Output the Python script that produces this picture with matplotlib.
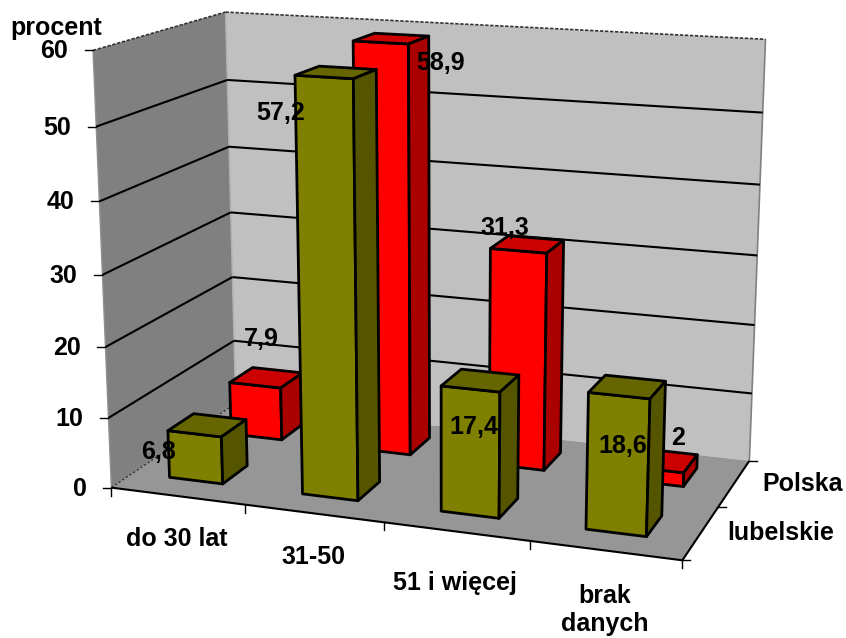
import numpy as np
import matplotlib
matplotlib.use("Agg")
import matplotlib.pyplot as plt

plt.rcParams["font.family"] = ["Liberation Sans", "DejaVu Sans"]

categories = ["do 30 lat", "31-50", "51 i więcej", "brak\ndanych"]
series_names = ["lubelskie", "Polska"]
lubelskie = [6.8, 57.2, 17.4, 18.6]
polska = [7.9, 58.9, 31.3, 2]
y_ticks = [0, 10, 20, 30, 40, 50, 60]

OLIVE = ("#808000", "#666600", "#555500")
RED = ("#ff0000", "#cc0000", "#aa0000")
BAR_LEFT = 0.28
BAR_RIGHT = 0.685
BAR_FRONT = 0.32
BAR_BACK = 0.72
FS = 18


# chart box corners on the canvas: (category, series, value) -> pixel
calib = [
    ((0, 0, 0), (111, 486)), ((4, 0, 0), (683, 561)),
    ((4, 2, 0), (749, 460)), ((0, 2, 0), (236, 405)),
    ((0, 0, 60), (93, 51)), ((0, 2, 60), (226, 12)),
    ((4, 2, 60), (766, 39)), ((0, 0, 50), (96, 127)),
    ((0, 2, 50), (227, 79)), ((4, 2, 50), (762, 113)),
]


def fit_camera(pairs):
    rows = []
    for (x, y, z), (u, v) in pairs:
        rows.append([x, y, z, 1, 0, 0, 0, 0, -u*x, -u*y, -u*z, -u])
        rows.append([0, 0, 0, 0, x, y, z, 1, -v*x, -v*y, -v*z, -v])
    return np.linalg.svd(np.array(rows, dtype=float))[2][-1].reshape(3, 4)


cam = fit_camera(calib)


def proj(x, y, z):
    u, v, w = cam @ np.array([x, y, z, 1.0])
    return u/w, v/w


def face(ax, corners, color, edge="none", lw=0, zorder=1):
    pts = [proj(*c) for c in corners]
    ax.fill(*zip(*pts), facecolor=color, edgecolor=edge, linewidth=lw,
            joinstyle="round", zorder=zorder)


def line(ax, a, b, **kw):
    pa, pb = proj(*a), proj(*b)
    ax.plot([pa[0], pb[0]], [pa[1], pb[1]], solid_capstyle="butt", **kw)


def bar(ax, cat, row, val, colors):
    x0, x1 = cat + BAR_LEFT, cat + BAR_RIGHT
    y0, y1 = row + BAR_FRONT, row + BAR_BACK
    kw = dict(edge="black", lw=2.0, zorder=3)
    face(ax, [(x0, y0, 0), (x1, y0, 0), (x1, y0, val), (x0, y0, val)], colors[0], **kw)
    face(ax, [(x0, y0, val), (x1, y0, val), (x1, y1, val), (x0, y1, val)], colors[1], **kw)
    face(ax, [(x1, y0, 0), (x1, y1, 0), (x1, y1, val), (x1, y0, val)], colors[2], **kw)


fig = plt.figure(figsize=(8.46, 6.38), dpi=100)
ax = fig.add_axes([0, 0, 1, 1])
ax.set_xlim(0, 846)
ax.set_ylim(638, 0)
ax.axis("off")

# walls and floor
face(ax, [(0, 2, 0), (4, 2, 0), (4, 2, 60), (0, 2, 60)], "#c0c0c0")
face(ax, [(0, 0, 0), (0, 2, 0), (0, 2, 60), (0, 0, 60)], "#808080")
face(ax, [(0, 0, 0), (4, 0, 0), (4, 2, 0), (0, 2, 0)], "#969696")
line(ax, (4, 2, 0), (4, 2, 60), color="#808080", lw=1.2)
line(ax, (0, 2, 0), (0, 2, 60), color="#b0b0b0", lw=1.0)
line(ax, (0, 0, 0), (0, 0, 60), color="#909090", lw=1.0)

# gridlines wrap around the two walls
for t in y_ticks[1:-1]:
    line(ax, (0, 0, t), (0, 2, t), color="black", lw=1.5)
    line(ax, (0, 2, t), (4, 2, t), color="black", lw=1.5)
    p = proj(0, 0, t)
    ax.plot([p[0]-8, p[0]], [p[1], p[1]], color="black", lw=1.0)
line(ax, (0, 0, 60), (0, 2, 60), color="#333333", lw=1.2, ls=(0, (2, 1)))
line(ax, (0, 2, 60), (4, 2, 60), color="#333333", lw=1.2, ls=(0, (2, 1)))
line(ax, (0, 0, 0), (0, 2, 0), color="#333333", lw=0.9, ls=(0, (2, 1.5)))
for t in (0, 60):
    p = proj(0, 0, t)
    ax.plot([p[0]-8, p[0]], [p[1], p[1]], color="black", lw=1.0)

# floor edges and their ticks
line(ax, (0, 0, 0), (4, 0, 0), color="black", lw=1.5)
line(ax, (4, 0, 0), (4, 2, 0), color="black", lw=1.5)
for c in range(len(categories) + 1):
    p = proj(c, 0, 0)
    ax.plot([p[0], p[0]], [p[1], p[1]+8], color="black", lw=1.0)
for r in range(len(series_names) + 1):
    p = proj(4, r, 0)
    ax.plot([p[0], p[0]+8], [p[1], p[1]], color="black", lw=1.0)

# back row first, the front row covers it
for i, v in enumerate(polska):
    bar(ax, i, 1, v, RED)
for i, v in enumerate(lubelskie):
    bar(ax, i, 0, v, OLIVE)

txt = dict(fontsize=FS, fontweight="bold", color="black", zorder=5)
for t in y_ticks:
    p = proj(0, 0, t)
    ax.text(p[0]-25, p[1]+1, str(t), ha="right", va="center", **txt)
ax.text(10, 28, "procent", ha="left", va="center", **txt)

cat_pos = [(177, 539), (313, 557), (455, 583), (605, 610)]
for name, (x, y) in zip(categories, cat_pos):
    ax.text(x, y, name, ha="center", va="center", linespacing=1.2, **txt)
ax.text(803, 484, series_names[1], ha="center", va="center", **txt)
ax.text(781, 533, series_names[0], ha="center", va="center", **txt)

# value labels
lub_pos = [(159, 452), (281, 113), (474, 427), (623, 446)]
pol_pos = [(261, 339), (441, 63), (505, 228), (678, 438)]
for vals, pos in ((lubelskie, lub_pos), (polska, pol_pos)):
    for v, (x, y) in zip(vals, pos):
        ax.text(x, y, str(v).replace(".", ","), ha="center", va="center", **txt)

plt.savefig("out.png", dpi=100)
